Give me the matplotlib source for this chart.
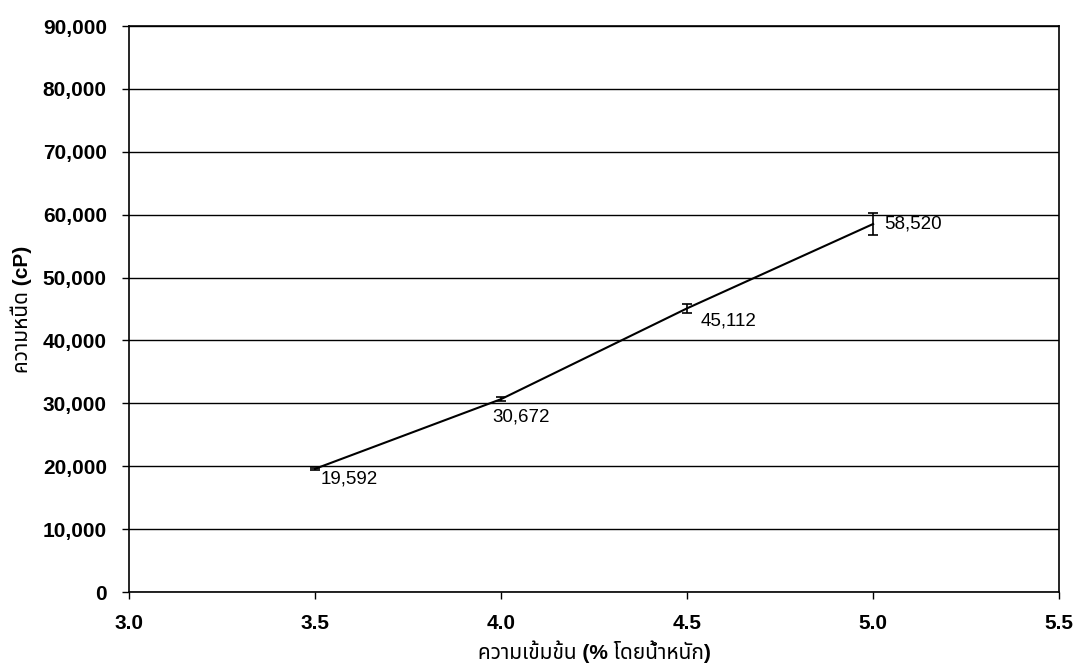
import matplotlib
matplotlib.use("Agg")
import matplotlib.pyplot as plt
from matplotlib import font_manager
from matplotlib.ticker import FuncFormatter, MultipleLocator

# ข้อมูล
conc = [3.5, 4.0, 4.5, 5.0]
viscosity = [19592, 30672, 45112, 58520]
viscosity_err = [150, 300, 700, 1800]
labels = ["19,592", "30,672", "45,112", "58,520"]

xlabel = "ความเข้มข้น (% โดยน้ำหนัก)"
ylabel = "ความหนืด (cP)"

# เลือกฟอนต์ที่มีอยู่จริง (ต้องมีตัวอักษรไทย)
wanted = ["Liberation Sans", "Noto Sans Thai", "Noto Sans Thai UI", "Loma",
          "Garuda", "Tlwg Typo", "Noto Sans", "DejaVu Sans"]
have = {f.name for f in font_manager.fontManager.ttflist}
fams = [f for f in wanted if f in have]
plt.rcParams["font.family"] = fams

fig = plt.figure(figsize=(10.79, 6.72), dpi=100)
ax = fig.add_axes([0.1196, 0.119, 0.8620, 0.8423])

ax.errorbar(conc, viscosity, yerr=viscosity_err, color="black", lw=1.5,
            elinewidth=1.2, capsize=3.5, capthick=1.2, zorder=3)

# ตำแหน่งป้ายกำกับ (หน่วย points)
offsets = [(4, -7), (-6, -13), (10, -9), (8, 0)]
for x, y, t, (dx, dy) in zip(conc, viscosity, labels, offsets):
    ax.annotate(t, (x, y), xytext=(dx, dy), textcoords="offset points",
                ha="left", va="center", fontsize=13.5)

ax.set_xlim(3.0, 5.5)
ax.set_ylim(0, 90000)
ax.xaxis.set_major_locator(MultipleLocator(0.5))
ax.yaxis.set_major_locator(MultipleLocator(10000))
ax.xaxis.set_major_formatter(FuncFormatter(lambda v, p: f"{v:.1f}"))
ax.yaxis.set_major_formatter(FuncFormatter(lambda v, p: f"{int(v):,}"))
ax.grid(axis="y", color="black", lw=1.0)
ax.set_axisbelow(True)

ax.tick_params(direction="out", length=5, width=1, labelsize=15)
ax.tick_params(axis="y", pad=11)
ax.tick_params(axis="x", pad=11)
for lab in ax.get_xticklabels() + ax.get_yticklabels():
    lab.set_fontweight("bold")
for s in ax.spines.values():
    s.set_color("black")
    s.set_linewidth(1.2)

ax.set_xlabel(xlabel, fontsize=15, fontweight="bold", labelpad=5)
ax.set_ylabel(ylabel, fontsize=15, fontweight="bold", labelpad=8)

fig.savefig("out.png", dpi=100)
